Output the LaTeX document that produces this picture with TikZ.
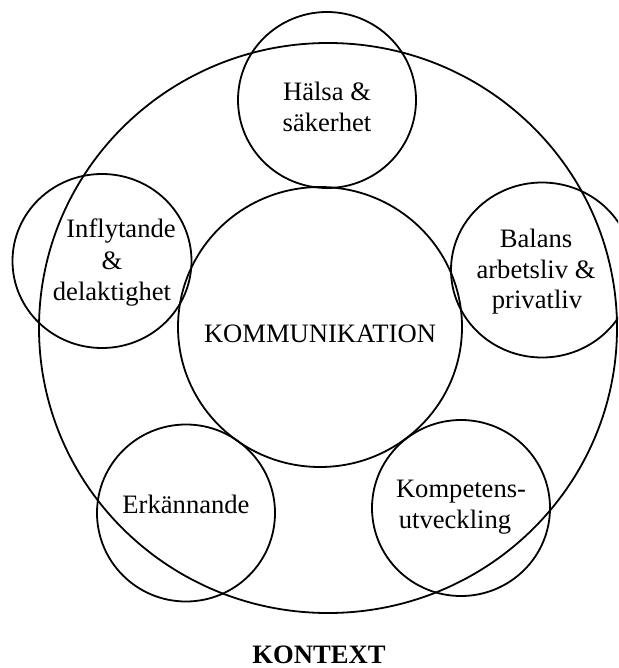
\documentclass[tikz,border=0pt]{standalone}
\usepackage{fontspec}
\setmainfont{Liberation Serif}
\usetikzlibrary{shapes.geometric}
\begin{document}
\begin{tikzpicture}[x=1pt,y=-1pt,
  ring/.style={draw, ellipse, line width=1.8pt, inner sep=0pt},
  lbl/.style={anchor=base, inner sep=0pt, font=\fontsize{26.6}{31}\selectfont}]
\clip (0,0) rectangle (618,668);
% rings
\node[ring, minimum width=578pt, minimum height=570pt] (ctx) at (328,328) {};
\node[ring, minimum width=284pt, minimum height=280pt] (kom) at (320,327) {};
\node[ring, minimum width=178pt, minimum height=176pt] (hal) at (327,100) {};
\node[ring, minimum width=179pt, minimum height=174pt] (inf) at (102,261) {};
\node[ring, minimum width=182pt, minimum height=175pt] (bal) at (542,270) {};
\node[ring, minimum width=178pt, minimum height=177pt] (erk) at (186,513) {};
\node[ring, minimum width=178pt, minimum height=176pt] (kmp) at (461,508) {};
% labels
\node[lbl] (tkom) at (320,342) {KOMMUNIKATION};
\node[lbl] (thal1) at (327,101) {Hälsa \&};
\node[lbl] (thal2) at (327,132) {säkerhet};
\node[lbl] (tinf1) at (121,237) {Inflytande};
\node[lbl] (tinf2) at (112,269) {\&};
\node[lbl] (tinf3) at (112,300) {delaktighet};
\node[lbl] (tbal1) at (536,247) {Balans};
\node[lbl] (tbal2) at (536,278) {arbetsliv \&};
\node[lbl] (tbal3) at (537,308) {privatliv};
\node[lbl] (terk) at (186,513) {Erkännande};
\node[lbl] (tkmp1) at (461,497) {Kompetens-};
\node[lbl] (tkmp2) at (455,528) {utveckling};
\node[lbl, font=\fontsize{26.6}{31}\selectfont\bfseries] (tctx) at (319,663) {KONTEXT};
\end{tikzpicture}
\end{document}
